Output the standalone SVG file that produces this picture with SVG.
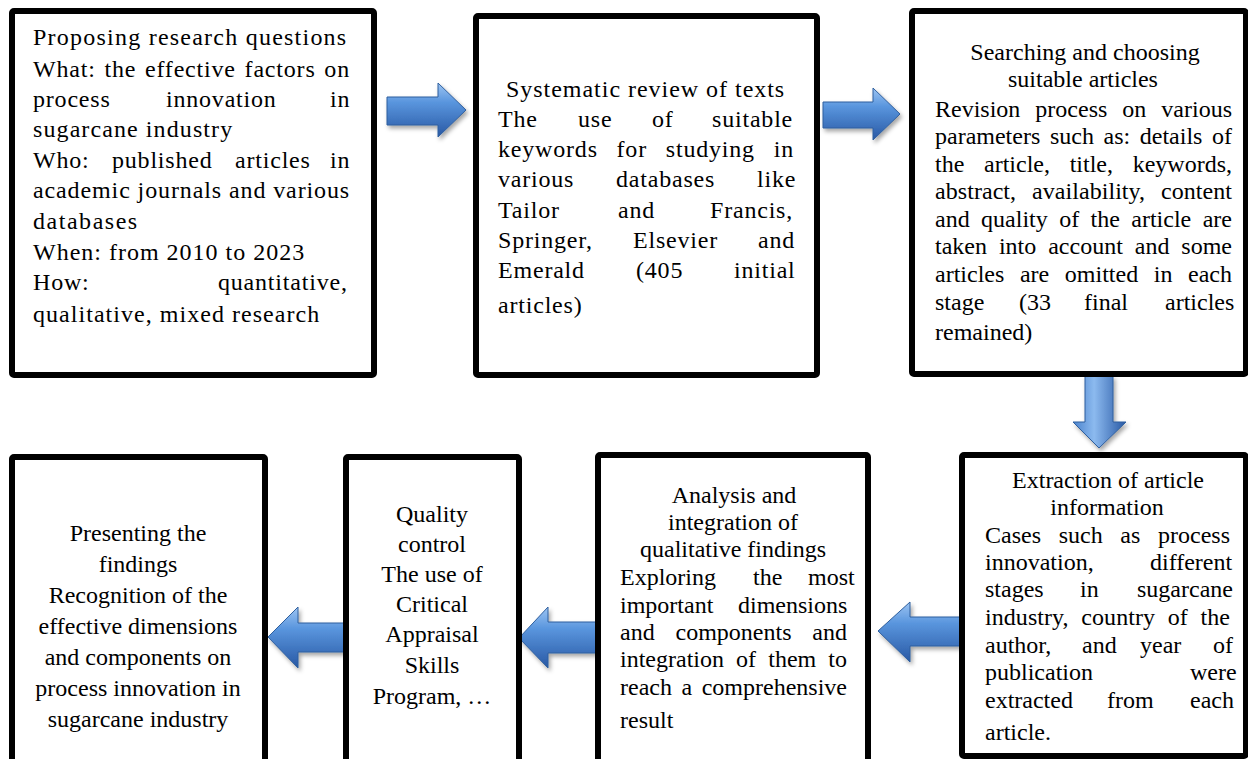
<svg xmlns="http://www.w3.org/2000/svg" width="1248" height="759" viewBox="0 0 1248 759">
<defs>
<linearGradient id="gh" x1="0" y1="0" x2="0" y2="1">
<stop offset="0" stop-color="#9cc4f2"/>
<stop offset="0.35" stop-color="#5a96de"/>
<stop offset="1" stop-color="#2858a4"/>
</linearGradient>
<linearGradient id="gv" x1="0" y1="0" x2="1" y2="0">
<stop offset="0" stop-color="#4a82cc"/>
<stop offset="0.4" stop-color="#8cbaef"/>
<stop offset="1" stop-color="#2858a4"/>
</linearGradient>
<filter id="sh" x="-20%" y="-20%" width="150%" height="160%">
<feDropShadow dx="2" dy="3" stdDeviation="2" flood-color="#000" flood-opacity="0.35"/>
</filter>
</defs>
<style>
.box{fill:#fff;stroke:#000;stroke-width:6;}
.t{font-family:"Liberation Serif","Times New Roman",serif;font-size:24px;fill:#000;}
.c{text-anchor:middle;}
.ls{letter-spacing:0.8px;}
.ah{fill:url(#gh);stroke:#2f5f9e;stroke-width:1;filter:url(#sh);}
.av{fill:url(#gv);stroke:#2f5f9e;stroke-width:1;filter:url(#sh);}
</style>
<rect width="1248" height="759" fill="#fff"/>
<g id="connectors">
<polygon class="ah" points="387,97 438,97 438,83 466,110 438,137 438,125 387,125"/>
<polygon class="ah" points="823,102 873,102 873,88 900,114 873,140 873,128 823,128"/>
<polygon class="av" points="1085,376 1113,376 1113,422 1126,422 1099,448 1073,422 1085,422"/>
<polygon class="ah" points="878,631 910,602 910,617 960,617 960,646 910,646 910,662"/>
<polygon class="ah" points="519,638 548,607 548,622 597,622 597,653 548,653 548,668"/>
<polygon class="ah" points="268,637 298,607 298,623 346,623 346,652 298,652 298,668"/>
</g>
<g id="n1">
<rect class="box" x="12" y="11" width="362" height="364" rx="2"/>
<g class="t ls">
<text x="33" y="45" textLength="314" lengthAdjust="spacing">Proposing research questions</text>
<text x="33" y="77" textLength="317" lengthAdjust="spacing" style="word-spacing:2px">What: the effective factors on</text>
<text y="107"><tspan x="33">process</tspan><tspan x="166">innovation</tspan><tspan x="330">in</tspan></text>
<text x="33" y="137" textLength="200" lengthAdjust="spacing">sugarcane industry</text>
<text y="168"><tspan x="33">Who:</tspan><tspan x="112">published</tspan><tspan x="235">articles</tspan><tspan x="330">in</tspan></text>
<text x="33" y="198" textLength="317" lengthAdjust="spacing">academic journals and various</text>
<text x="33" y="229" textLength="105" lengthAdjust="spacing">databases</text>
<text x="33" y="260" textLength="272" lengthAdjust="spacing">When: from 2010 to 2023</text>
<text y="290"><tspan x="33">How:</tspan><tspan x="218">quantitative,</tspan></text>
<text x="33" y="322" textLength="287" lengthAdjust="spacing">qualitative, mixed research</text>
</g>
</g>
<g id="n2">
<rect class="box" x="476" y="16" width="341" height="359" rx="2"/>
<g class="t ls">
<text x="506" y="97" textLength="279" lengthAdjust="spacing">Systematic review of texts</text>
<text y="127"><tspan x="498">The</tspan><tspan x="578">use</tspan><tspan x="652">of</tspan><tspan x="712">suitable</tspan></text>
<text x="498" y="157" textLength="296" lengthAdjust="spacing" style="word-spacing:12px">keywords for studying in</text>
<text y="187"><tspan x="498">various</tspan><tspan x="616">databases</tspan><tspan x="757">like</tspan></text>
<text y="218"><tspan x="498">Tailor</tspan><tspan x="618">and</tspan><tspan x="710">Francis,</tspan></text>
<text y="248"><tspan x="498">Springer,</tspan><tspan x="633">Elsevier</tspan><tspan x="758">and</tspan></text>
<text y="278"><tspan x="498">Emerald</tspan><tspan x="636">(405</tspan><tspan x="734">initial</tspan></text>
<text x="498" y="313">articles)</text>
</g>
</g>
<g id="n3">
<rect class="box" x="912" y="11" width="334" height="363" rx="2"/>
<g class="t">
<text class="c" x="1085" y="60">Searching and choosing</text>
<text class="c" x="1083" y="87">suitable articles</text>
<text x="935" y="117" textLength="297" lengthAdjust="spacing" style="word-spacing:9px">Revision process on various</text>
<text x="935" y="144" textLength="297" lengthAdjust="spacing" style="word-spacing:3.6px">parameters such as: details of</text>
<text x="935" y="172" textLength="297" lengthAdjust="spacing" style="word-spacing:13.7px">the article, title, keywords,</text>
<text x="935" y="199" textLength="297" lengthAdjust="spacing" style="word-spacing:9.8px">abstract, availability, content</text>
<text x="935" y="227" textLength="297" lengthAdjust="spacing" style="word-spacing:5.4px">and quality of the article are</text>
<text x="935" y="254" textLength="297" lengthAdjust="spacing" style="word-spacing:5.9px">taken into account and some</text>
<text x="935" y="282" textLength="297" lengthAdjust="spacing" style="word-spacing:9.6px">articles are omitted in each</text>
<text y="310"><tspan x="935">stage</tspan><tspan x="1019">(33</tspan><tspan x="1084">final</tspan><tspan x="1165">articles</tspan></text>
<text x="935" y="340">remained)</text>
</g>
</g>
<g id="n4">
<rect class="box" x="962" y="455" width="284" height="301" rx="2"/>
<g class="t">
<text class="c" x="1108" y="488">Extraction of article</text>
<text class="c" x="1107" y="515">information</text>
<text x="985" y="543" textLength="245" lengthAdjust="spacing" style="word-spacing:11.7px">Cases such as process</text>
<text y="570"><tspan x="985">innovation,</tspan><tspan x="1150">different</tspan></text>
<text y="597"><tspan x="985">stages</tspan><tspan x="1080">in</tspan><tspan x="1137">sugarcane</tspan></text>
<text x="985" y="625" textLength="245" lengthAdjust="spacing" style="word-spacing:6.6px">industry, country of the</text>
<text y="653"><tspan x="985">author,</tspan><tspan x="1082">and</tspan><tspan x="1140">year</tspan><tspan x="1213">of</tspan></text>
<text y="680"><tspan x="985">publication</tspan><tspan x="1190">were</tspan></text>
<text y="708"><tspan x="985">extracted</tspan><tspan x="1107">from</tspan><tspan x="1190">each</tspan></text>
<text x="985" y="740">article.</text>
</g>
</g>
<g id="n5">
<rect class="box" x="598" y="455" width="270" height="310" rx="2"/>
<g class="t">
<text class="c" x="734" y="503">Analysis and</text>
<text class="c" x="733" y="530">integration of</text>
<text class="c" x="733" y="557">qualitative findings</text>
<text y="585"><tspan x="620">Exploring</tspan><tspan x="753">the</tspan><tspan x="808">most</tspan></text>
<text y="613"><tspan x="620">important</tspan><tspan x="738">dimensions</tspan></text>
<text x="620" y="640" textLength="227" lengthAdjust="spacing" style="word-spacing:14.8px">and components and</text>
<text x="620" y="667" textLength="227" lengthAdjust="spacing" style="word-spacing:6.1px">integration of them to</text>
<text x="620" y="695" textLength="227" lengthAdjust="spacing" style="word-spacing:3.5px">reach a comprehensive</text>
<text x="620" y="728">result</text>
</g>
</g>
<g id="n6">
<rect class="box" x="346" y="457" width="173" height="310" rx="2"/>
<g class="t c">
<text x="432" y="522">Quality</text>
<text x="432" y="552">control</text>
<text x="432" y="582">The use of</text>
<text x="432" y="612">Critical</text>
<text x="432" y="642">Appraisal</text>
<text x="432" y="673">Skills</text>
<text x="432" y="704">Program, …</text>
</g>
</g>
<g id="n7">
<rect class="box" x="12" y="457" width="253" height="310" rx="2"/>
<g class="t c">
<text x="138" y="541">Presenting the</text>
<text x="138" y="572">findings</text>
<text x="138" y="603">Recognition of the</text>
<text x="138" y="634">effective dimensions</text>
<text x="138" y="665">and components on</text>
<text x="138" y="696">process innovation in</text>
<text x="138" y="727">sugarcane industry</text>
</g>
</g>
</svg>
